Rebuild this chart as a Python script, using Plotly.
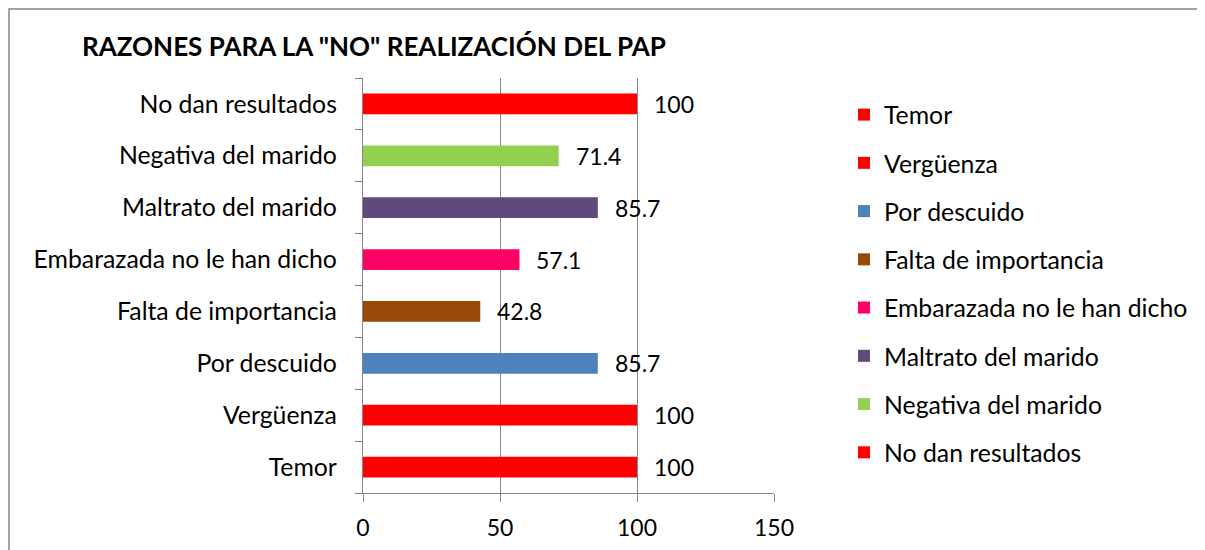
import plotly.graph_objects as go

categories = ["Temor", "Vergüenza", "Por descuido", "Falta de importancia",
              "Embarazada no le han dicho", "Maltrato del marido",
              "Negativa del marido", "No dan resultados"]
values = [100, 100, 85.7, 42.8, 57.1, 85.7, 71.4, 100]
labels = ["100", "100", "85.7", "42.8", "57.1", "85.7", "71.4", "100"]
colors = ["#FF0000", "#FF0000", "#4F81BD", "#984807",
          "#FF0066", "#604A7B", "#92D050", "#FF0000"]
x_ticks = [0, 50, 100, 150]

FONT = "Lato"
FS = 24.8
L, T, PW, PH = 355, 70, 411, 415
W, H = 1205, 550

fig = go.Figure()
for i, (c, v, col) in enumerate(zip(categories, values, colors)):
    fig.add_trace(go.Bar(
        y=[c], x=[v], orientation="h", name=c,
        marker=dict(color=col, line=dict(width=0)),
        width=0.4, legendgroup=f"g{i}", showlegend=True,
        hoverinfo="skip",
    ))

for c, v, t in zip(categories, values, labels):
    fig.add_annotation(x=v, y=c, text=t, showarrow=False, xanchor="left",
                       xshift=15, font=dict(size=23, color="black", family=FONT))

grey = "#868686"
fig.add_shape(type="rect", xref="paper", yref="paper",
              x0=(1 - L) / PW, x1=(W + 20 - L) / PW,
              y0=(T + PH - H - 20) / PH, y1=(T + PH - 1) / PH,
              line=dict(color=grey, width=1.5), fillcolor="rgba(0,0,0,0)", layer="below")

fig.update_layout(
    width=W, height=H,
    paper_bgcolor="white", plot_bgcolor="white",
    barmode="overlay",
    margin=dict(l=L, r=W - L - PW, t=T, b=H - T - PH),
    font=dict(family=FONT, size=FS, color="black"),
    title=dict(text='<b>RAZONES PARA LA "NO" REALIZACIÓN DEL PAP</b>',
               x=74 / W, xanchor="left", xref="container",
               y=1 - 39 / H, yanchor="middle", yref="container",
               font=dict(size=26, family=FONT, color="black")),
    xaxis=dict(range=[0, 150], tickvals=x_ticks, showgrid=True, gridcolor=grey,
               gridwidth=1.3, showline=True, linecolor=grey, linewidth=1.3,
               ticks="outside", ticklen=8, tickcolor=grey, zeroline=False,
               ticklabelstandoff=6, tickfont=dict(size=23), fixedrange=True),
    yaxis=dict(categoryorder="array", categoryarray=categories,
               showline=True, linecolor=grey, linewidth=1.3,
               ticks="outside", ticklen=7, tickcolor=grey, tickson="boundaries",
               ticklabelstandoff=20, tickfont=dict(size=FS), showgrid=False),
    legend=dict(x=(836 - L) / PW, y=(T + PH - 84) / PH,
                xanchor="left", yanchor="top", tracegroupgap=13,
                font=dict(size=FS, family=FONT), itemwidth=30,
                bgcolor="rgba(0,0,0,0)"),
    showlegend=True,
)

fig.write_html("out.html")
